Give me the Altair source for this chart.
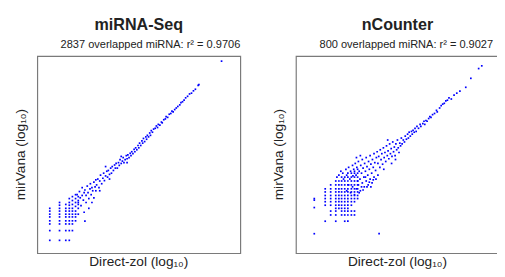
import altair as alt
import pandas as pd

FONT = "Liberation Sans"

# ---------------- miRNA-Seq panel (log10 units) ----------------
seq_grid_x = [0.32, 0.57, 0.73, 0.82, 0.90, 0.98, 1.05]
seq_grid_y = [
    [1.15, 1.08, 1.0, 0.93, 0.83, 0.75, 0.58, 0.33],
    [1.3, 1.23, 1.15, 1.08, 1.0, 0.93, 0.83, 0.75, 0.58, 0.33],
    [1.25, 1.15, 1.08, 1.0, 0.93, 0.83, 0.75, 0.58, 0.33],
    [1.4, 1.3, 1.23, 1.15, 1.08, 1.0, 0.93, 0.83, 0.75, 0.58, 0.33],
    [1.45, 1.35, 1.25, 1.15, 1.08, 1.0, 0.93, 0.83, 0.75, 0.58],
    [1.5, 1.4, 1.3, 1.2, 1.08, 1.0, 0.93, 0.83],
    [1.45, 1.35, 1.25, 1.15, 1.0],
]
seq_x = [1.22,
    1.02, 1.05, 1.08, 1.1, 1.12, 1.15, 1.15, 1.18, 1.2, 1.22, 1.25, 1.25, 1.28, 1.3, 1.32,
    1.35, 1.36, 1.38, 1.4, 1.42, 1.45, 1.45, 1.48, 1.5, 1.5, 1.32, 1.2, 1.4,
    1.52, 1.55, 1.58, 1.6, 1.62, 1.65, 1.68, 1.7, 1.72, 1.75, 1.78, 1.8, 1.82, 1.85, 1.88,
    1.9, 1.92, 1.95, 1.98, 2.0, 1.6, 1.75, 1.85,
    2.02, 2.05, 2.08, 2.1, 2.12, 2.15, 2.18, 2.2, 2.22, 2.25, 2.28, 2.3, 2.32, 2.35, 2.38,
    2.4, 2.42, 2.45, 2.48, 2.5, 2.3, 2.15,
    2.52, 2.55, 2.58, 2.6, 2.62, 2.65, 2.68, 2.7, 2.72, 2.75, 2.78, 2.8, 2.82, 2.85, 2.88,
    2.9, 2.92, 2.95, 2.98,
    3.02, 3.05, 3.08, 3.1, 3.14, 3.18, 3.2, 3.24, 3.28, 3.3, 3.34, 3.38, 3.42, 3.45, 3.48,
    3.52, 3.56, 3.6, 3.65, 3.68, 3.72, 3.76, 3.8, 3.85, 3.9, 3.95, 4.0, 4.05, 4.12, 4.14,
    4.72]
seq_y = [0.82,
    1.5, 1.3, 1.58, 1.42, 1.22, 1.48, 1.68, 1.36, 1.55, 1.62, 1.3, 1.48, 1.72, 1.55, 1.4,
    1.65, 1.78, 1.5, 1.68, 1.6, 1.82, 1.42, 1.7, 1.88, 1.6, 1.15, 1.05, 1.3,
    1.75, 1.9, 1.68, 1.85, 2.0, 1.78, 1.92, 2.05, 1.86, 1.98, 2.1, 1.95, 2.12, 2.02, 2.18,
    2.05, 2.22, 2.12, 2.26, 2.18, 1.6, 2.22, 1.9,
    2.3, 2.18, 2.32, 2.25, 2.4, 2.3, 2.36, 2.45, 2.32, 2.4, 2.5, 2.42, 2.52, 2.45, 2.56,
    2.5, 2.6, 2.55, 2.66, 2.6, 2.32, 2.48,
    2.7, 2.65, 2.76, 2.7, 2.82, 2.76, 2.88, 2.82, 2.94, 2.86, 2.98, 2.92, 3.02, 2.98, 3.08,
    3.02, 3.14, 3.1, 3.18,
    3.2, 3.26, 3.22, 3.3, 3.28, 3.36, 3.34, 3.42, 3.44, 3.5, 3.48, 3.56, 3.58, 3.64, 3.62,
    3.68, 3.72, 3.76, 3.8, 3.86, 3.88, 3.92, 3.98, 4.02, 4.08, 4.1, 4.16, 4.2, 4.3, 4.32,
    4.92]

# ---------------- nCounter panel (log10 units) ----------------
nc_grid_x = [0.75, 0.89, 1.02, 1.10, 1.17, 1.25, 1.33, 1.42, 1.50, 1.58]
nc_grid_y = [
    [1.65, 1.57, 1.48, 1.4, 1.32, 1.23, 0.82],
    [1.75, 1.65, 1.57, 1.48, 1.4, 1.32, 1.23, 1.08, 0.98],
    [1.85, 1.75, 1.65, 1.57, 1.48, 1.4, 1.32, 1.23, 1.15, 1.08, 0.98, 0.82],
    [1.85, 1.75, 1.65, 1.57, 1.48, 1.4, 1.32, 1.23, 1.15],
    [1.95, 1.85, 1.75, 1.65, 1.57, 1.48, 1.4, 1.32, 1.23, 1.15, 1.08, 0.98],
    [1.95, 1.85, 1.75, 1.65, 1.57, 1.48, 1.4, 1.32, 1.23, 1.15, 1.08, 0.98, 0.82],
    [2.05, 1.95, 1.85, 1.75, 1.65, 1.57, 1.48, 1.4, 1.32, 1.23, 1.15, 1.08, 0.98, 0.82],
    [2.05, 1.95, 1.85, 1.75, 1.65, 1.57, 1.48, 1.4, 1.32, 1.23, 1.08, 0.98],
    [2.1, 2.05, 1.95, 1.85, 1.75, 1.65, 1.57, 1.48, 1.4, 1.32, 1.08, 0.98],
    [2.15, 2.05, 1.95, 1.85, 1.75, 1.65, 1.57, 1.48, 1.4],
]
nc_x = [0.47, 0.47, 0.47, 0.47, 2.13,
    1.05, 1.1, 1.15, 1.2, 1.22, 1.28, 1.3, 1.35, 1.38, 1.4, 1.45, 1.46, 1.48, 1.52, 1.54,
    1.56, 1.6, 1.62, 1.64, 1.66, 1.68, 1.7, 1.72, 1.74, 1.76, 1.78, 1.8, 1.82, 1.84, 1.86,
    1.88, 1.9, 1.92, 1.94, 1.96, 1.98, 2.0, 2.02, 2.04, 2.06, 1.6, 1.65, 1.7, 1.75, 1.8,
    1.85, 1.9, 1.95, 2.0, 1.55, 1.58, 1.62, 1.68, 1.72, 1.78, 1.82, 1.88, 1.92, 1.98, 2.05,
    2.1, 1.55, 1.65, 1.5, 1.45, 1.4, 1.35, 1.3,
    2.08, 2.1, 2.12, 2.15, 2.16, 2.18, 2.2, 2.22, 2.24, 2.26, 2.28, 2.3, 2.32, 2.34, 2.36,
    2.38, 2.4, 2.42, 2.44, 2.46, 2.48, 2.5, 2.52, 2.54, 2.56, 2.58, 2.6, 2.62, 2.64, 2.66,
    2.68, 2.7, 2.25, 2.45, 2.55, 2.35,
    2.72, 2.75, 2.78, 2.8, 2.83, 2.86, 2.88, 2.9, 2.93, 2.96, 2.98, 3.0, 3.03, 3.05, 3.08,
    3.1, 3.14, 3.18, 3.2, 3.25, 3.28, 3.3,
    3.33, 3.36, 3.4, 3.43, 3.46, 3.5, 3.55, 3.6, 3.62, 3.68, 3.72, 3.76, 3.8, 3.84, 3.88,
    3.92, 3.98, 4.05, 4.12, 4.2, 4.35, 4.48, 4.68, 4.76]
nc_y = [0.5, 1.4, 1.36, 1.17, 0.5,
    1.95, 2.0, 2.1, 2.05, 1.9, 2.15, 2.0, 2.2, 1.9, 2.1, 2.25, 1.98, 2.15, 2.3, 2.0,
    2.2, 2.35, 2.1, 1.9, 2.25, 2.05, 2.4, 2.18, 1.95, 2.3, 2.1, 2.45, 2.22, 2.0, 2.35,
    2.15, 2.5, 2.28, 2.05, 2.4, 2.2, 2.55, 2.32, 2.12, 2.45, 1.75, 1.6, 1.8, 1.7, 1.85,
    1.75, 1.9, 1.8, 1.95, 1.65, 1.85, 1.55, 1.7, 1.62, 1.95, 1.7, 1.82, 1.7, 1.88, 1.9,
    2.0, 2.45, 2.5, 1.5, 1.7, 1.55, 1.75, 1.6,
    2.6, 2.3, 2.48, 2.2, 2.65, 2.4, 2.55, 2.28, 2.7, 2.45, 2.58, 2.35, 2.75, 2.5, 2.62,
    2.42, 2.8, 2.55, 2.68, 2.48, 2.85, 2.6, 2.72, 2.5, 2.8, 2.65, 2.9, 2.7, 2.58, 2.82,
    2.75, 2.95, 2.15, 2.3, 2.4, 2.9,
    2.8, 2.9, 2.85, 3.0, 2.92, 3.05, 2.95, 3.1, 3.0, 3.12, 3.05, 3.15, 3.1, 3.2, 3.12,
    3.25, 3.2, 3.3, 3.25, 3.32, 3.38, 3.3,
    3.4, 3.38, 3.45, 3.5, 3.48, 3.55, 3.58, 3.66, 3.62, 3.72, 3.78, 3.82, 3.84, 3.9, 3.92,
    3.98, 3.95, 4.05, 4.1, 4.15, 4.25, 4.48, 4.73, 4.8]

X_TITLE = "Direct-zol (log₁₀)"
Y_TITLE = "mirVana (log₁₀)"


def build(gx, gy, xs, ys):
    rows = []
    for x, col in zip(gx, gy):
        for y in col:
            rows.append({"x": x, "y": y})
    for x, y in zip(xs, ys):
        rows.append({"x": x, "y": y})
    return pd.DataFrame(rows)


W, H = 208, 202
INK = "#222222"


def label(text, **kw):
    enc = {k: v for k, v in kw.items() if k in ("x", "y")}
    mk = {k: v for k, v in kw.items() if k not in ("x", "y")}
    return alt.Chart(pd.DataFrame({"t": [text]})).mark_text(
        font=FONT, color=INK, **mk
    ).encode(text="t:N", **enc)


def panel(df, title, sub, sub_x):
    pts = alt.Chart(df).mark_square(size=3, color="#0000ff", opacity=1).encode(
        x=alt.X("x:Q", scale=alt.Scale(domain=[0, 5.2], nice=False, zero=False), axis=None),
        y=alt.Y("y:Q", scale=alt.Scale(domain=[0, 5.05], nice=False, zero=False), axis=None),
    )
    t_title = label(title, x=alt.value(W / 2), y=alt.value(-26.5), align="center",
                    baseline="alphabetic", fontSize=16.5, fontWeight="bold")
    t_sub = label(sub, x=alt.value(sub_x), y=alt.value(-8.5), align="right",
                  baseline="alphabetic", fontSize=11.3)
    t_x = label(X_TITLE, x=alt.value(W / 2), y=alt.value(H + 2), align="center",
                baseline="top", fontSize=14)
    t_y = label(Y_TITLE, x=alt.value(-10), y=alt.value(H / 2), align="center",
                baseline="bottom", fontSize=14, angle=270)
    return alt.layer(pts, t_title, t_sub, t_x, t_y).properties(width=W, height=H)


left = panel(build(seq_grid_x, seq_grid_y, seq_x, seq_y), "miRNA-Seq",
             "2837 overlapped miRNA: r² = 0.9706", W)
right = panel(build(nc_grid_x, nc_grid_y, nc_x, nc_y), "nCounter",
              "800 overlapped miRNA: r² = 0.9027", W - 6)

chart = alt.hconcat(left, right, spacing=31).properties(
    padding={"left": 5, "top": 5, "right": -3, "bottom": 0}
).configure_view(
    stroke="#7a7a7a", strokeWidth=1.2
)

chart.save("out.html", embed_options={"renderer": "svg", "actions": False})
